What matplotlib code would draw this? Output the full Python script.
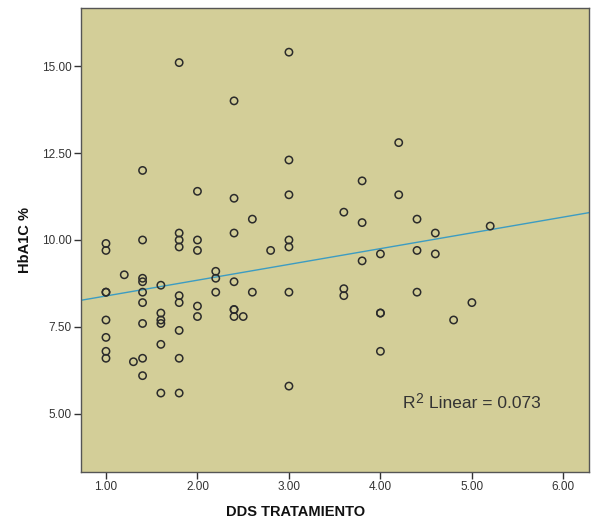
import numpy as np
import matplotlib
matplotlib.use("Agg")
import matplotlib.pyplot as plt

plt.rcParams['font.family'] = ['Liberation Sans', 'DejaVu Sans']

# DDS TRATAMIENTO values
dds = [1.0]*8 + [1.2] + [1.3] + [1.4]*9 + [1.6]*6 + [1.8]*9 + [2.0]*5 + [2.2]*3 \
    + [2.4]*7 + [2.5] + [2.6]*2 + [2.8] + [3.0]*7 + [3.6]*3 + [3.8]*3 + [4.0]*4 \
    + [4.2]*2 + [4.4]*3 + [4.6]*2 + [4.8] + [5.0] + [5.2]
# HbA1C % values
hba1c = [9.9, 9.7, 8.5, 8.5, 7.7, 7.2, 6.8, 6.6,
         9.0,
         6.5,
         12.0, 10.0, 8.9, 8.8, 8.5, 8.2, 7.6, 6.6, 6.1,
         8.7, 7.9, 7.7, 7.6, 7.0, 5.6,
         15.1, 10.2, 10.0, 9.8, 8.4, 8.2, 7.4, 6.6, 5.6,
         11.4, 10.0, 9.7, 8.1, 7.8,
         9.1, 8.9, 8.5,
         14.0, 11.2, 10.2, 8.8, 8.0, 8.0, 7.8,
         7.8,
         10.6, 8.5,
         9.7,
         15.4, 12.3, 11.3, 10.0, 9.8, 8.5, 5.8,
         10.8, 8.6, 8.4,
         11.7, 10.5, 9.4,
         9.6, 7.9, 7.9, 6.8,
         12.8, 11.3,
         10.6, 9.7, 8.5,
         10.2, 9.6,
         7.7,
         8.2,
         10.4]

x_ticks = [1, 2, 3, 4, 5, 6]
y_ticks = [5, 7.5, 10, 12.5, 15]

x = np.array(dds)
y = np.array(hba1c)

fig = plt.figure(figsize=(5.92, 5.21), dpi=100)
ax = fig.add_axes([81/592, 1-472/521, (589-81)/592, (472-8)/521])
ax.set_facecolor('#D3CE98')

xlim = (0.727, 6.28)
ylim = (3.33, 16.67)

slope, intercept = np.polyfit(x, y, 1)
xl = np.array(xlim)
ax.plot(xl, intercept + slope*xl, color='#3C9CC2', lw=1.0, zorder=2)

ax.scatter(x, y, s=28, facecolors='none', edgecolors='#2b2b2b', linewidths=1.1, zorder=3)

ax.set_xlim(*xlim)
ax.set_ylim(*ylim)
ax.set_xticks(x_ticks)
ax.set_xticklabels([f"{v:.2f}" for v in x_ticks])
ax.set_yticks(y_ticks)
ax.set_yticklabels([f"{v:.2f}" for v in y_ticks])
ax.tick_params(axis='both', direction='out', length=5, width=1, color='#333333',
               labelsize=8.5, labelcolor='#333333', pad=1.5)

for sp in ax.spines.values():
    sp.set_color('#555555')
    sp.set_linewidth(1.0)

fig.text(296/592, 1-512/521, "DDS TRATAMIENTO", ha='center', va='center',
         fontsize=10.5, fontweight='bold', color='#111111')
fig.text(25/592, 1-240/521, "HbA1C %", ha='center', va='center', rotation=90,
         fontsize=10.5, fontweight='bold', color='#111111')

fig.text(403/592, 1-404/521, "R", ha='left', va='center',
         fontsize=12.5, color='#333333')
fig.text(415.5/592, 1-399/521, "2", ha='left', va='center',
         fontsize=10, color='#333333')
fig.text(429/592, 1-404/521, "Linear = 0.073", ha='left', va='center',
         fontsize=12.5, color='#333333')

fig.savefig("out.png", dpi=100)
